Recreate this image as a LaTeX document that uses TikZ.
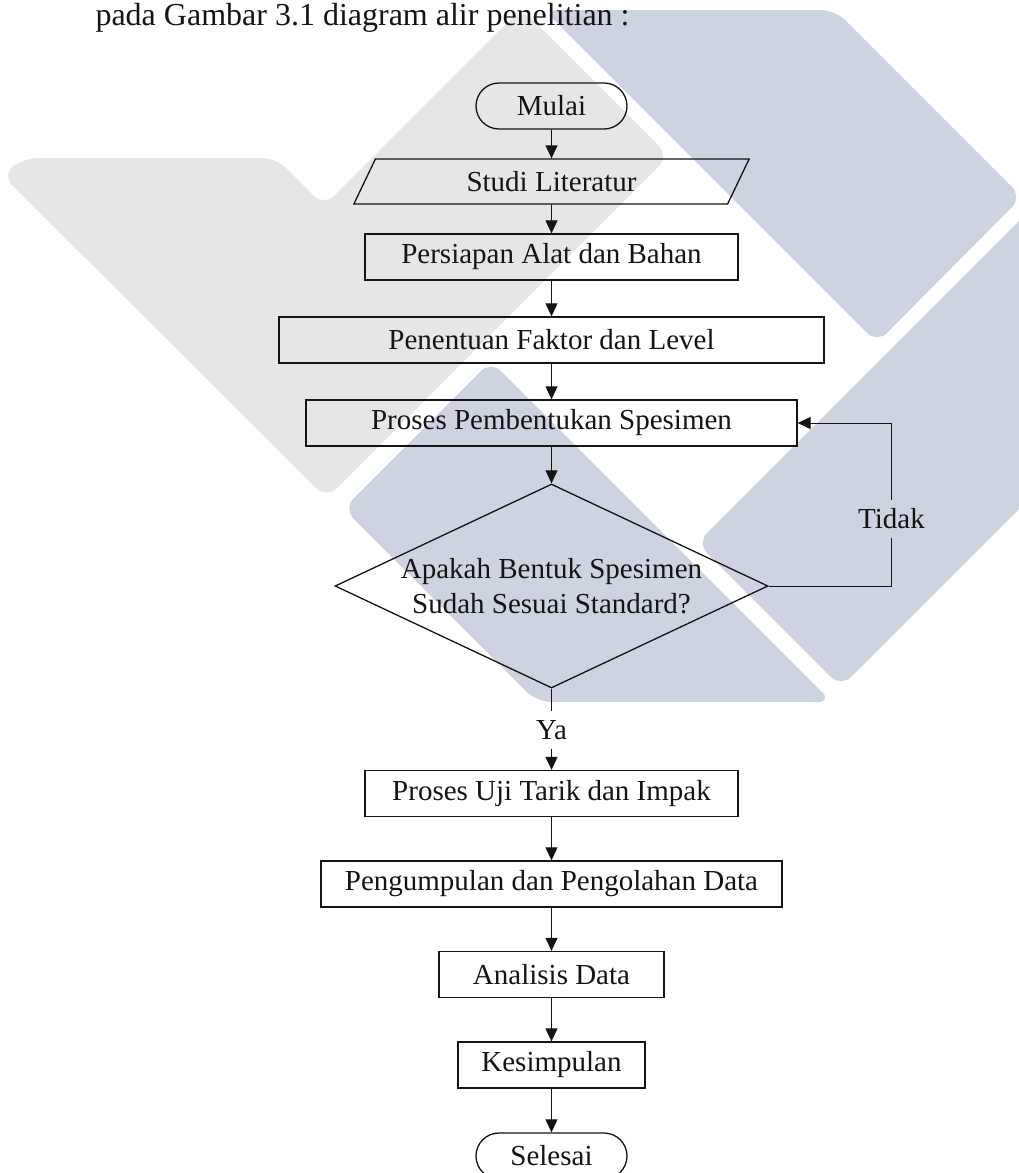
\documentclass[tikz,border=0pt]{standalone}
\usepackage{fontspec}
\setmainfont{Liberation Serif}
\usetikzlibrary{positioning, arrows.meta, shapes.geometric}
\definecolor{wmgray}{RGB}{230, 230, 230}
\definecolor{wmblue}{RGB}{205, 211, 224}
\definecolor{ink}{RGB}{20, 20, 20}

\begin{document}
\begin{tikzpicture}[
  x=1pt, y=-1pt,
  every node/.style={font=\fontsize{29}{35}\selectfont, text=ink},
  box/.style={draw=ink, line width=1.3pt, minimum height=46pt, inner sep=0pt},
  term/.style={box, rounded corners=23pt, minimum width=151pt},
  io/.style={
    draw=ink, line width=1.3pt, trapezium, trapezium stretches=true,
    trapezium left angle=63, trapezium right angle=117,
    minimum width=396pt, minimum height=45pt, inner sep=0pt,
  },
  decision/.style={
    draw=ink, line width=1.3pt, diamond, align=center,
    minimum width=433pt, minimum height=204pt, inner sep=0pt,
  },
  lbl/.style={text height=20pt, text depth=1pt, inner xsep=2pt, inner ysep=8pt},
  conn/.style={ink, line width=0.9pt},
  arr/.style={conn, -{Triangle[length=13pt, width=12pt]}},
  wm/.style={rounded corners=14pt},
]

\useasboundingbox (0,0) rectangle (1019,1173);
\clip (0,0) rectangle (1019,1173);

% Watermark
\fill[wmgray, wm] (276,158) -- (324,206) -- (521.5,8.5) -- (669,156)
  -- (326.5,498.5) -- (2,175) -- (24,158) -- cycle;
\fill[wmblue, wm] (544,10) -- (835,10) -- (1022,197) -- (877,343) -- cycle;
\fill[wmblue, wm] (697,543) -- (841,687) -- (1100,428) -- (1100,140) -- cycle;
\fill[wmblue, wm] (343.5,508.5) -- (491,361) -- (832,702) -- (537,702) -- cycle;

% Intro line
\node[font=\fontsize{32}{38}\selectfont, anchor=base west] (intro) at (92,25)
  {pada Gambar 3.1 diagram alir penelitian :};

% Nodes
\node[term] (mulai) at (551.5,106) {Mulai};
\node[io] (studi) at (551.5,181.5) {Studi Literatur};
\foreach \n/\y/\w/\txt in {
  persiapan/257/373pt/{Persiapan Alat dan Bahan},
  faktor/340/545pt/{Penentuan Faktor dan Level},
  bentuk/423/491pt/{Proses Pembentukan Spesimen}%
}{
  \node[box, minimum width=\w] (\n) at (551.5,\y) {\txt};
}
\node[decision] (cek) at (551.5,586)
  {\makebox[0pt]{Apakah Bentuk Spesimen}\\\makebox[0pt]{Sudah Sesuai Standard?}};
\node[lbl] (ya) at (551.5,730) {Ya};
\node[lbl] (tidak) at (891.5,519) {Tidak};
\foreach \n/\y/\w/\txt in {
  uji/793.5/373pt/{Proses Uji Tarik dan Impak},
  olah/884/461pt/{Pengumpulan dan Pengolahan Data},
  analisis/974.5/225pt/{Analisis Data},
  simpul/1065/187pt/{Kesimpulan}%
}{
  \node[box, minimum width=\w] (\n) at (551.5,\y) {\txt};
}
\node[term] (selesai) at (551.5,1156) {Selesai};

% Arrows
\foreach \a/\b in {mulai/studi, studi/persiapan, persiapan/faktor, faktor/bentuk,
  bentuk/cek, ya/uji, uji/olah, olah/analisis, analisis/simpul, simpul/selesai}{
  \draw[arr] (\a.south) -- (\b.north);
}
\draw[conn] (cek.south) -- (ya.north);
\draw[conn] (cek.east) -| (tidak.south);
\draw[arr] (tidak.north) |- (bentuk.east);

\end{tikzpicture}
\end{document}
